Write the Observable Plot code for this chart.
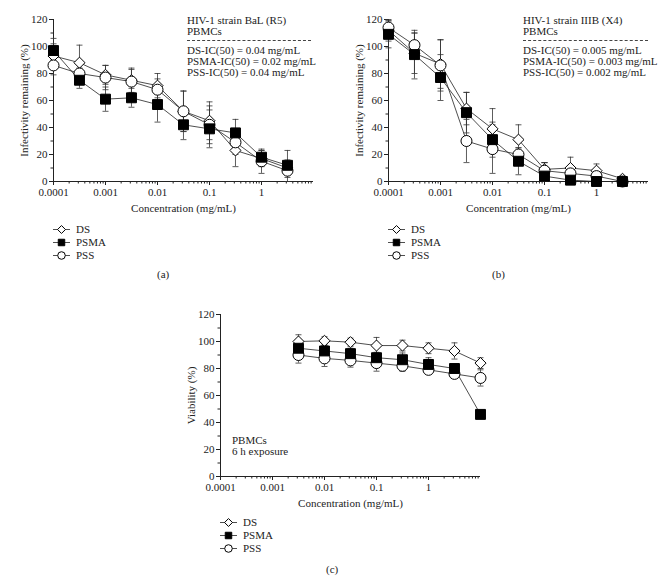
<!DOCTYPE html>
<html><head><meta charset="utf-8">
<script src="https://cdn.jsdelivr.net/npm/d3@7"></script>
<script src="https://cdn.jsdelivr.net/npm/@observablehq/plot@0.6"></script>
<style>
body{margin:0;background:#fff;}
#root{position:relative;width:658px;height:581px;font-family:"Liberation Serif",serif;color:#222;overflow:hidden;}
.abs{position:absolute;white-space:nowrap;}
.ann{font-size:11px;line-height:11px;}
.dash{position:absolute;border-top:1px dashed #444;height:0;}
.leg{font-size:11px;line-height:13px;}
.leg div{display:flex;align-items:center;height:13px;}
.leg svg{margin-right:5px;}
.cap{font-size:11px;}
</style></head><body><div id="root"></div>
<script>
// ---------- data ----------
const seriesNames = ["DS", "PSMA", "PSS"];
const xTicks = [0.0001, 0.001, 0.01, 0.1, 1];
const xTickLabels = ["0.0001", "0.001", "0.01", "0.1", "1"];
const yTicks = [0, 20, 40, 60, 80, 100, 120];
const yMinorTicks = [10, 30, 50, 70, 90, 110];

// (a) HIV-1 strain BaL (R5)
const concA = [0.0001, 0.000316, 0.001, 0.00316, 0.01, 0.0316, 0.1, 0.316, 1, 3.16];
const dsA = [93, 88, 79, 75, 71, 52, 45, 23, 17, 10];
const dsAErr = [9, 13, 7, 9, 9, 15, 14, 12, 6, 13];
const psmaA = [97, 75, 61, 62, 57, 42, 39, 36, 18, 12];
const psmaAErr = [9, 6, 9, 7, 13, 11, 14, 10, 5, 4];
const pssA = [86, 80, 77, 74, 68, 52, 42, 29, 15, 8];
const pssAErr = [7, 4, 9, 9, 8, 15, 14, 9, 9, 5];

// (b) HIV-1 strain IIIB (X4)
const concB = [0.0001, 0.000316, 0.001, 0.00316, 0.01, 0.0316, 0.1, 0.316, 1, 3.16];
const dsB = [112, 95, 87, 54, 39, 31, 9, 10, 8, 2];
const dsBErr = [8, 15, 18, 12, 15, 11, 5, 8, 5, 2];
const psmaB = [109, 94, 77, 51, 31, 15, 4, 1, 0, 0];
const psmaBErr = [10, 18, 17, 15, 13, 10, 10, 2, 2, 1];
const pssB = [114, 101, 86, 30, 24, 20, 8, 6, 4, 0];
const pssBErr = [5, 9, 19, 16, 18, 5, 6, 4, 3, 1];

// (c) Viability
const concC = [0.00316, 0.01, 0.0316, 0.1, 0.316, 1, 3.16, 10];
const dsC = [100, 100.5, 99.5, 97, 97, 95, 93, 84];
const dsCErr = [5, 3, 3, 6, 4, 4, 6, 4];
const psmaC = [95, 93, 91, 88, 86.5, 83, 80, 46];
const psmaCErr = [4, 4, 4, 4, 5, 5, 3, 2];
const pssC = [90, 87.5, 86, 84, 82, 79, 76, 73];
const pssCErr = [6, 6, 5, 6, 4, 3, 3, 6];

// ---------- helpers ----------
const root = document.getElementById("root");
const symbolOf = {DS: "diamond2", PSMA: "square", PSS: "circle"};
const fillOf = {DS: "white", PSMA: "black", PSS: "white"};
const rOf = {DS: 5, PSMA: 5.6, PSS: 5.5};
const capSymbol = {draw(ctx) { ctx.moveTo(-3, 0); ctx.lineTo(3, 0); }};
const xMinor = [];
for (const d of xTicks) for (let k = 2; k <= 9; k++) xMinor.push(+(k * d).toPrecision(3));
const xLabelOf = d => {
  const i = xTicks.findIndex(t => Math.abs(Math.log10(t) - Math.log10(d)) < 1e-6);
  return i >= 0 ? xTickLabels[i] : "";
};

function rows(conc, vals, errs, s) {
  return conc.map((x, i) => ({x, y: vals[i], err: errs[i], s}));
}

function panel({left, top, yLabel, data}) {
  const all = data.flat();
  const caps = all.flatMap(d => [{x: d.x, y: d.y + d.err}, {x: d.x, y: Math.max(0, d.y - d.err)}]);
  const order = ["DS", "PSS", "PSMA"];
  const svg = Plot.plot({
    width: 320, height: 215,
    marginLeft: 53, marginRight: 7, marginTop: 19, marginBottom: 34,
    style: {fontFamily: "Liberation Serif, serif", fontSize: "10.5px", color: "#222", background: "transparent"},
    x: {type: "log", domain: [1e-4, 10]},
    y: {domain: [0, 120]},
    marks: [
      Plot.axisX({ticks: xMinor, tickSize: 2.5, tickFormat: () => "", label: null}),
      Plot.axisX({ticks: xTicks, tickSize: 4, tickPadding: 3, tickFormat: xLabelOf,
        label: "Concentration (mg/mL)", labelAnchor: "center", labelOffset: 30, labelArrow: "none", fontSize: 11}),
      Plot.axisY({ticks: yMinorTicks, tickSize: 2.5, tickFormat: () => "", label: null}),
      Plot.axisY({ticks: yTicks, tickSize: 4, tickPadding: 2,
        label: yLabel, labelAnchor: "center", labelOffset: 33, labelArrow: "none", fontSize: 11}),
      Plot.ruleX([1e-4], {stroke: "#222", strokeWidth: 1}),
      Plot.ruleY([0], {stroke: "#222", strokeWidth: 1}),
      Plot.ruleX(all, {x: "x", y1: d => Math.max(0, d.y - d.err), y2: d => d.y + d.err, stroke: "#333", strokeWidth: 0.8}),
      Plot.dot(caps, {x: "x", y: "y", symbol: capSymbol, r: 3, stroke: "#333", fill: "none", strokeWidth: 0.8}),
      Plot.line(all, {x: "x", y: "y", z: "s", stroke: "#222", strokeWidth: 0.8}),
      ...order.map(s => Plot.dot(all.filter(d => d.s === s), {
        x: "x", y: "y", symbol: symbolOf[s], r: rOf[s], fill: fillOf[s], stroke: "black", strokeWidth: 1
      }))
    ]
  });
  svg.style.position = "absolute";
  svg.style.left = left + "px";
  svg.style.top = top + "px";
  root.appendChild(svg);
}

function addText(html, cls, left, top) {
  const el = document.createElement("div");
  el.className = "abs " + cls;
  el.style.left = left + "px"; el.style.top = top + "px";
  el.innerHTML = html;
  root.appendChild(el);
}

function legendSwatch(s) {
  const sym = d3.symbol().type(s === "DS" ? d3.symbolDiamond2 : s === "PSMA" ? d3.symbolSquare : d3.symbolCircle)
    .size(s === "DS" ? 40 : s === "PSMA" ? 42 : 45)();
  return `<svg width="18" height="11" style="overflow:visible"><line x1="0" x2="17" y1="5.5" y2="5.5" stroke="#222" stroke-width="0.8"/>` +
    `<path d="${sym}" transform="translate(8.5,5.5)" fill="${fillOf[s]}" stroke="black" stroke-width="1"/></svg>`;
}
function legend(left, top) {
  addText(seriesNames.map(s => `<div>${legendSwatch(s)}<span>${s}</span></div>`).join(""), "leg", left, top);
}

// ---------- panels ----------
panel({left: 0, top: 0, yLabel: "Infectivity remaining (%)",
  data: [rows(concA, dsA, dsAErr, "DS"), rows(concA, psmaA, psmaAErr, "PSMA"), rows(concA, pssA, pssAErr, "PSS")]});
panel({left: 335, top: 0, yLabel: "Infectivity remaining (%)",
  data: [rows(concB, dsB, dsBErr, "DS"), rows(concB, psmaB, psmaBErr, "PSMA"), rows(concB, pssB, pssBErr, "PSS")]});
panel({left: 167, top: 295, yLabel: "Viability (%)",
  data: [rows(concC, dsC, dsCErr, "DS"), rows(concC, psmaC, psmaCErr, "PSMA"), rows(concC, pssC, pssCErr, "PSS")]});

// annotations
addText("HIV-1 strain BaL (R5)<br>PBMCs", "ann", 187, 15);
addText("DS-IC(50) = 0.04 mg/mL<br>PSMA-IC(50) = 0.02 mg/mL<br>PSS-IC(50) = 0.04 mg/mL", "ann", 187, 45);
addText("HIV-1 strain IIIB (X4)<br>PBMCs", "ann", 523, 15);
addText("DS-IC(50) = 0.005 mg/mL<br>PSMA-IC(50) = 0.003 mg/mL<br>PSS-IC(50) = 0.002 mg/mL", "ann", 523, 45);
addText("PBMCs<br>6 h exposure", "ann", 232, 435);
for (const [l, w] of [[187, 124], [523, 125]]) {
  const d = document.createElement("div");
  d.className = "dash"; d.style.left = l + "px"; d.style.top = "40px"; d.style.width = w + "px";
  root.appendChild(d);
}

// legends and captions
legend(53, 223);
legend(388, 223);
legend(220, 516);
addText("(a)", "cap", 157, 268);
addText("(b)", "cap", 492, 268);
addText("(c)", "cap", 326, 563);
</script></body></html>
